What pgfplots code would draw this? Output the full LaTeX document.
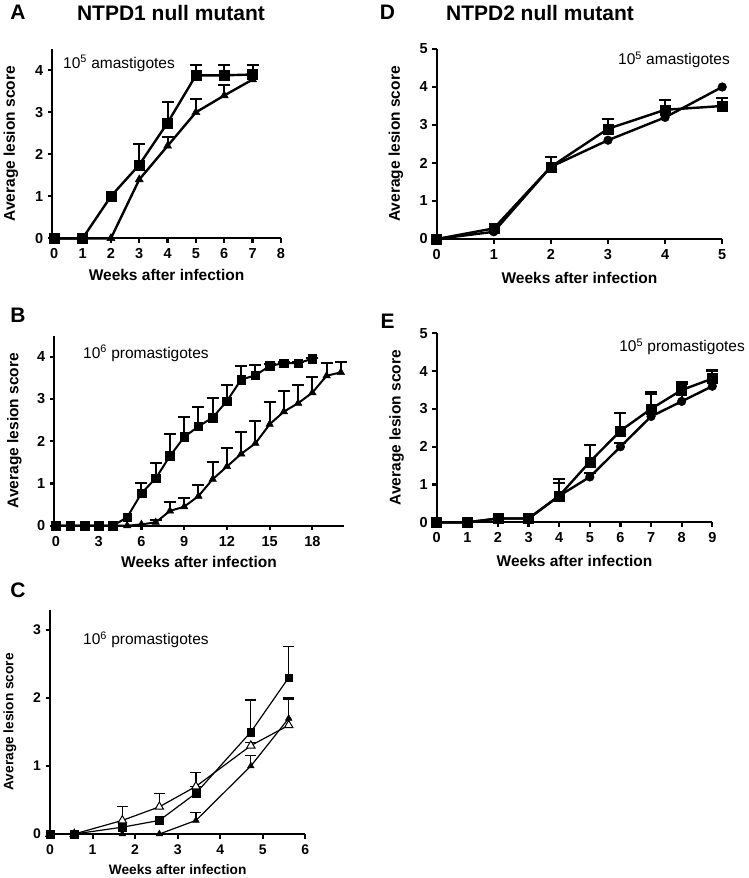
\documentclass[border=0pt]{standalone}
\usepackage{fontspec}
\setmainfont{Liberation Sans}
\usepackage{pgfplots}
\pgfplotsset{compat=1.18}
\pgfplotsset{
  gp/.style={
    scale only axis, clip=false, anchor=south west,
    axis x line*=bottom, axis y line*=left,
    axis line style={line width=2.2pt,-,black},
    tick style={line width=2.2pt, black},
    tick align=outside, major tick length=4.5pt,
    ymin=0,
    ticklabel style={font=\bfseries\fontsize{14.5}{15}\selectfont},
    xticklabel style={yshift=-2.5pt},
    yticklabel style={xshift=-1pt},
    /pgf/number format/assume math mode=true,
    label style={font=\bfseries\fontsize{15.5}{16}\selectfont},
    xlabel style={anchor=center},
    ylabel style={anchor=center},
    every axis plot/.append style={line width=2.4pt, black},
    error bars/y dir=plus, error bars/y explicit,
    error bars/error bar style={line width=2pt},
    error bars/error mark options={rotate=90, mark size=6pt, line width=2pt},
  },
}
\begin{document}
\begin{tikzpicture}
\path[use as bounding box] (0,0) rectangle (748pt,-878pt);
% ---------- Panel A ----------
\begin{axis}[gp, at={(52.3pt,-238.3pt)}, width=228.6pt, height=189pt,
  xmin=-0.07, xmax=8, ymax=4.5, xtick={0,...,8}, ytick={0,...,4},
  xlabel={Weeks after infection}, ylabel={Average lesion score},
  xlabel style={at={(axis description cs:0.5,0)}, yshift=-36.7pt},
  ylabel style={at={(axis description cs:-0.181,0.5)}}]
\addplot[mark=triangle*, mark options={mark size=4.6pt, line width=0.5pt}] coordinates {
 (0,0) (1,0) (2,0) (3,1.4) (4,2.2) +- (0,0.22) (5,3.0) +- (0,0.32) (6,3.4) +- (0,0.25) (7,3.78) +- (0,0.35)};
\addplot[mark=square*, mark options={mark size=5pt, line width=0.5pt}] coordinates {
 (0,0) (1,0) (2,1) (3,1.75) +- (0,0.5) (4,2.75) +- (0,0.5) (5,3.88) +- (0,0.25) (6,3.88) +- (0,0.25) (7,3.9) +- (0,0.22)};
\end{axis}
% ---------- Panel B ----------
\begin{axis}[gp, at={(54.3pt,-525.7pt)}, width=289.4pt, height=190.1pt,
  xmin=-0.12, xmax=20.2, ymax=4.5, xtick={0,3,...,18}, ytick={0,...,4},
  xlabel={Weeks after infection}, ylabel={Average lesion score},
  xlabel style={at={(axis description cs:0.5,0)}, yshift=-36pt},
  ylabel style={at={(axis description cs:-0.138,0.5)}}]
\addplot[line width=2pt, mark=triangle*, mark options={mark size=4.3pt, line width=0.5pt}] coordinates {
 (0,0) (1,0) (2,0) (3,0) (4,0) (5,0) (6,0.03) (7,0.08) +- (0,0.05) (8,0.35) +- (0,0.22) (9,0.45) +- (0,0.21)
 (10,0.7) +- (0,0.26) (11,1.1) +- (0,0.4) (12,1.4) +- (0,0.45) (13,1.7) +- (0,0.51) (14,1.95) +- (0,0.52)
 (15,2.4) +- (0,0.53) (16,2.7) +- (0,0.49) (17,2.9) +- (0,0.43) (18,3.15) +- (0,0.38) (19,3.55) +- (0,0.31) (20,3.63) +- (0,0.24)};
\addplot[line width=2pt, mark=square*, mark options={mark size=4.3pt, line width=0.5pt}] coordinates {
 (0,0) (1,0) (2,0) (3,0) (4,0) (5,0.2) (6,0.77) +- (0,0.25) (7,1.12) +- (0,0.37) (8,1.65) +- (0,0.52)
 (9,2.1) +- (0,0.47) (10,2.35) +- (0,0.46) (11,2.56) +- (0,0.46) (12,2.95) +- (0,0.39) (13,3.46) +- (0,0.32)
 (14,3.56) +- (0,0.24) (15,3.78) +- (0,0.05) (16,3.85) +- (0,0.03) (17,3.85) +- (0,0.03) (18,3.95) +- (0,0.02)};
\end{axis}
% ---------- Panel C ----------
\begin{axis}[gp, at={(50pt,-834pt)}, width=255.3pt, height=224.4pt,
  xmin=0, xmax=6, ymax=3.3, xtick={0,...,6}, ytick={0,...,3},
  axis line style={line width=2pt,-,black}, tick style={line width=2pt, black},
  ticklabel style={font=\bfseries\fontsize{14}{14}\selectfont},
  label style={font=\bfseries\fontsize{13.7}{14}\selectfont},
  every axis plot/.append style={line width=1.2pt},
  error bars/error bar style={line width=1.2pt},
  error bars/error mark options={rotate=90, mark size=5.5pt, line width=1.2pt},
  xlabel={Weeks after infection}, ylabel={Average lesion score},
  xlabel style={at={(axis description cs:0.5,0)}, yshift=-36pt},
  ylabel style={at={(axis description cs:-0.157,0.5)}}]
\addplot[mark=triangle*, mark options={mark size=3.9pt, line width=0.4pt}] coordinates {
 (0,0) (0.57,0) (1.7,0) (2.57,0) (3.43,0.2) +- (0,0.12) (4.72,1.0) +- (0,0.15) (5.61,1.7) +- (0,0.28)};
\addplot[mark=triangle*, mark options={mark size=4.8pt, line width=1pt, fill=white}] coordinates {
 (0,0) (0.57,0) (1.7,0.2) +- (0,0.2) (2.57,0.4) +- (0,0.19) (3.43,0.7) +- (0,0.2) (4.72,1.3) +- (0,0.05) (5.61,1.6) +- (0,0.4)};
\addplot[mark=square*, mark options={mark size=3.8pt, line width=0.4pt}] coordinates {
 (0,0) (0.57,0) (1.7,0.1) (2.57,0.2) (3.43,0.6) +- (0,0.1) (4.72,1.5) +- (0,0.47) (5.61,2.3) +- (0,0.46)};
\end{axis}
% ---------- Panel D ----------
\begin{axis}[gp, at={(436.7pt,-239pt)}, width=285.5pt, height=190pt,
  xmin=0, xmax=5, ymax=5, xtick={0,...,5}, ytick={0,...,5},
  xlabel={Weeks after infection}, ylabel={Average lesion score},
  xlabel style={at={(axis description cs:0.5,0)}, yshift=-39pt},
  ylabel style={at={(axis description cs:-0.1425,0.5)}}]
\addplot[mark=*, mark options={mark size=4.3pt, line width=0.5pt}] coordinates {
 (0,0) (1,0.19) (2,1.9) (3,2.6) (4,3.2) (5,4.0)};
\addplot[mark=square*, mark options={mark size=5pt, line width=0.5pt}] coordinates {
 (0,0) (1,0.28) (2,1.9) +- (0,0.25) (3,2.9) +- (0,0.25) (4,3.4) +- (0,0.25) (5,3.5) +- (0,0.22)};
\end{axis}
% ---------- Panel E ----------
\begin{axis}[gp, at={(436.7pt,-522.3pt)}, width=275.6pt, height=189pt,
  xmin=0, xmax=9, ymax=5, xtick={0,...,9}, ytick={0,...,5},
  xlabel={Weeks after infection}, ylabel={Average lesion score},
  xlabel style={at={(axis description cs:0.5,0)}, yshift=-39pt},
  ylabel style={at={(axis description cs:-0.145,0.5)}}]
\addplot[mark=*, mark options={mark size=4.3pt, line width=0.5pt}] coordinates {
 (0,0) (1,0) (2,0.1) (3,0.1) (4,0.7) +- (0,0.33) (5,1.2) +- (0,0.1) (6,2.0) +- (0,0.1) (7,2.8) +- (0,0.59) (8,3.2) +- (0,0.45) (9,3.6) +- (0,0.39)};
\addplot[mark=square*, mark options={mark size=5pt, line width=0.5pt}] coordinates {
 (0,0) (1,0) (2,0.1) (3,0.1) (4,0.7) +- (0,0.45) (5,1.6) +- (0,0.44) (6,2.42) +- (0,0.48) (7,3.0) +- (0,0.46) (8,3.5) +- (0,0.2) (9,3.8) +- (0,0.22)};
\end{axis}
% ---------- Texts ----------
\begin{scope}[every node/.style={inner sep=0pt}]
\node[font=\bfseries\fontsize{21}{21}\selectfont] at (18pt,-12.5pt) {A};
\node[font=\bfseries\fontsize{21}{21}\selectfont] at (171pt,-12.5pt) {NTPD1 null mutant};
\node[font=\bfseries\fontsize{21}{21}\selectfont] at (18pt,-315pt) {B};
\node[font=\bfseries\fontsize{21}{21}\selectfont] at (18pt,-590pt) {C};
\node[font=\bfseries\fontsize{21}{21}\selectfont] at (387.5pt,-12.5pt) {D};
\node[font=\bfseries\fontsize{21}{21}\selectfont] at (540pt,-12.5pt) {NTPD2 null mutant};
\node[font=\bfseries\fontsize{21}{21}\selectfont] at (387.5pt,-321.7pt) {E};
\node[anchor=west, font=\fontsize{15.5}{16}\selectfont] at (63pt,-63.3pt) {10\textsuperscript{5} amastigotes};
\node[anchor=west, font=\fontsize{15.5}{16}\selectfont] at (83pt,-353.3pt) {10\textsuperscript{6} promastigotes};
\node[anchor=west, font=\fontsize{15.5}{16}\selectfont] at (83pt,-640pt) {10\textsuperscript{6} promastigotes};
\node[anchor=east, font=\fontsize{15.5}{16}\selectfont] at (730pt,-60pt) {10\textsuperscript{5} amastigotes};
\node[anchor=east, font=\fontsize{15.5}{16}\selectfont] at (745pt,-346.7pt) {10\textsuperscript{5} promastigotes};
\end{scope}
\end{tikzpicture}
\end{document}
